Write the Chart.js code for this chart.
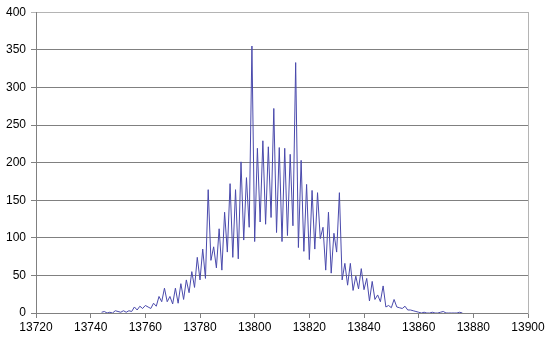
<!DOCTYPE html>
<html>
<head>
<meta charset="utf-8">
<script src="https://cdn.jsdelivr.net/npm/chart.js@4.4.0/dist/chart.umd.min.js"></script>
<style>
  html, body { margin: 0; padding: 0; background: #fff; }
  #wrap { width: 550px; height: 345px; }
</style>
</head>
<body>
<div id="wrap"><canvas id="massChart"></canvas></div>
<script>
// mass values (x) and intensities (y), one point per unit
const masses = [
  13744, 13745, 13746, 13747, 13748, 13749, 13750, 13751, 13752, 13753,
  13754, 13755, 13756, 13757, 13758, 13759, 13760, 13761, 13762, 13763,
  13764, 13765, 13766, 13767, 13768, 13769, 13770, 13771, 13772, 13773,
  13774, 13775, 13776, 13777, 13778, 13779, 13780, 13781, 13782, 13783,
  13784, 13785, 13786, 13787, 13788, 13789, 13790, 13791, 13792, 13793,
  13794, 13795, 13796, 13797, 13798, 13799, 13800, 13801, 13802, 13803,
  13804, 13805, 13806, 13807, 13808, 13809, 13810, 13811, 13812, 13813,
  13814, 13815, 13816, 13817, 13818, 13819, 13820, 13821, 13822, 13823,
  13824, 13825, 13826, 13827, 13828, 13829, 13830, 13831, 13832, 13833,
  13834, 13835, 13836, 13837, 13838, 13839, 13840, 13841, 13842, 13843,
  13844, 13845, 13846, 13847, 13848, 13849, 13850, 13851, 13852, 13853,
  13854, 13855, 13856, 13857, 13858, 13859, 13860, 13861, 13862, 13863,
  13864, 13865, 13866, 13867, 13868, 13869, 13870, 13871, 13872, 13873,
  13874, 13875, 13876
];
const intensities = [
  1, 2, 0, 1, 0, 3, 2, 1, 3, 1,
  3, 2, 8, 4, 9, 6, 10, 8, 6, 13,
  9, 22, 15, 33, 15, 22, 12, 33, 13, 39,
  18, 44, 27, 55, 34, 74, 44, 85, 46, 164,
  70, 88, 60, 112, 57, 134, 81, 172, 74, 164,
  72, 201, 97, 180, 114, 355, 95, 219, 121, 229,
  118, 221, 127, 272, 107, 220, 95, 219, 103, 211,
  116, 333, 87, 203, 82, 171, 71, 163, 85, 160,
  99, 114, 57, 134, 53, 106, 81, 160, 44, 66,
  37, 66, 30, 49, 32, 59, 31, 46, 16, 42,
  18, 24, 15, 36, 8, 10, 7, 18, 8, 7,
  6, 9, 4, 4, 3, 2, 1, 0, 1, 0,
  0, 1, 0, 0, 1, 2, 0, 0, 0, 0,
  0, 1, 0
];
const xTicks = [13720, 13740, 13760, 13780, 13800, 13820, 13840, 13860, 13880, 13900];
const yTicks = [0, 50, 100, 150, 200, 250, 300, 350, 400];

const points = masses.map((m, i) => ({ x: m, y: intensities[i] }));
const tickFont = { family: 'Liberation Sans, Arial, sans-serif', size: 12 };

new Chart(document.getElementById('massChart').getContext('2d'), {
  type: 'line',
  data: {
    datasets: [{
      data: points,
      borderColor: '#4a4aac',
      borderWidth: 1,
      pointRadius: 0,
      tension: 0,
      fill: false
    }]
  },
  options: {
    responsive: true,
    maintainAspectRatio: false,
    animation: false,
    layout: { padding: { top: 9, right: 22, bottom: 0, left: 0 } },
    plugins: {
      legend: { display: false },
      tooltip: { enabled: false }
    },
    scales: {
      x: {
        type: 'linear',
        min: xTicks[0],
        max: xTicks[xTicks.length - 1],
        afterBuildTicks: (scale) => { scale.ticks = xTicks.map(v => ({ value: v })); },
        afterFit: (scale) => { scale.height = 32; },
        border: { color: '#808080', width: 1 },
        grid: { drawOnChartArea: false, drawTicks: true, tickLength: 5, color: '#808080' },
        ticks: {
          color: '#000',
          font: tickFont,
          padding: 2,
          maxRotation: 0,
          callback: (v) => String(v)
        }
      },
      y: {
        min: yTicks[0],
        max: yTicks[yTicks.length - 1],
        afterBuildTicks: (scale) => { scale.ticks = yTicks.map(v => ({ value: v })); },
        afterFit: (scale) => { scale.width = 36; },
        border: { color: '#808080', width: 1 },
        grid: {
          color: (ctx) => (ctx.tick && ctx.tick.value === 400 ? '#b4b4b4' : '#808080'),
          tickLength: 5
        },
        ticks: { color: '#000', font: tickFont, padding: 5 }
      },
      yRight: {
        position: 'right',
        min: 0,
        max: 400,
        afterFit: (scale) => { scale.width = 0; },
        border: { color: '#b4b4b4', width: 1 },
        grid: { drawOnChartArea: false, drawTicks: false },
        ticks: { display: false }
      }
    }
  }
});
</script>
</body>
</html>
